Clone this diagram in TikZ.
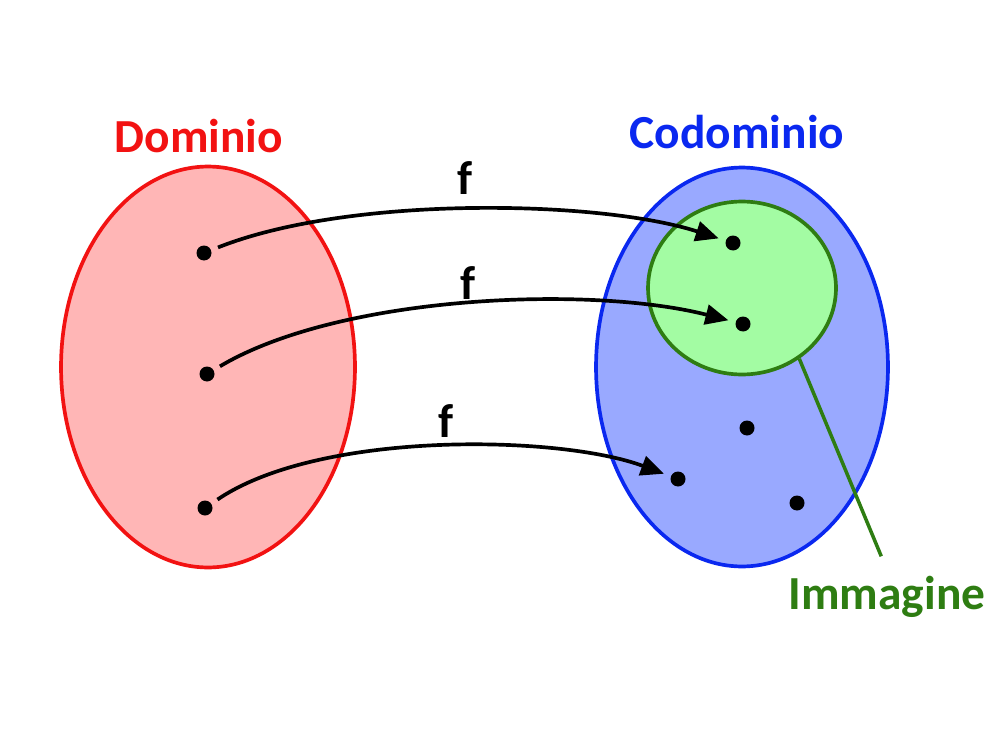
\documentclass[tikz,border=0pt]{standalone}
\usepackage{fontspec}
\setmainfont{Carlito}
\usetikzlibrary{arrows.meta,positioning,shapes.geometric}
\definecolor{domred}{HTML}{F21212}
\definecolor{domfill}{HTML}{FFB6B6}
\definecolor{codblue}{HTML}{0A28F0}
\definecolor{codfill}{HTML}{99A9FF}
\definecolor{imgreen}{HTML}{2E7D12}
\definecolor{imgfill}{HTML}{A3FCA3}

\begin{document}
\begin{tikzpicture}[
    x=0.02cm, y=-0.02cm,
    >={Triangle[length=4.6mm, width=4mm]},
    set/.style={ellipse, line width=2.1pt, inner sep=0pt},
    pt/.style={circle, fill=black, minimum size=3mm, inner sep=0pt, outer sep=4.3pt},
    fmap/.style={->, line width=2.1pt, black},
    flabel/.style={font=\fontsize{27}{32}\selectfont\bfseries},
    title/.style={font=\fontsize{27}{32}\selectfont\bfseries},
]
    \useasboundingbox (0,0) rectangle (1000,750);

    % ============================================================
    %  SETS
    % ============================================================
    \node[set, draw=domred, fill=domfill,
          minimum width=5.88cm, minimum height=8.02cm] (dom) at (208,367) {};
    \node[set, draw=codblue, fill=codfill,
          minimum width=5.84cm, minimum height=7.98cm] (cod) at (742,367) {};
    \node[set, draw=imgreen, fill=imgfill,
          minimum width=3.76cm, minimum height=3.46cm] (img) at (742,288) {};

    % Set captions
    \node[title, text=domred]  (domlbl) at (199,136) {Dominio};
    \node[title, text=codblue] (codlbl) at (737,132) {Codominio};
    \node[title, text=imgreen] (imglbl) at (887,597) {Immagine};

    % ============================================================
    %  ELEMENTS
    % ============================================================
    % Domain
    \node[pt] (a1) at (204,253) {};
    \node[pt] (a2) at (207,374) {};
    \node[pt] (a3) at (205,508) {};
    % Codomain (first two lie in the image)
    \node[pt] (b1) at (733,243) {};
    \node[pt] (b2) at (743,324) {};
    \node[pt] (b3) at (747,428) {};
    \node[pt] (b4) at (678,479) {};
    \node[pt] (b5) at (797,503) {};

    % ============================================================
    %  MAPPINGS
    % ============================================================
    \draw[fmap] (a1) .. controls (350,195) and (600,200) .. (b1);
    \draw[fmap] (a2) .. controls (340,295) and (590,285) .. (b2);
    \draw[fmap] (a3) .. controls (320,430) and (560,435) .. (b4);

    \node[flabel] (f1) at (465,178) {f};
    \node[flabel] (f2) at (468,283) {f};
    \node[flabel] (f3) at (446,421) {f};

    % Pointer to the image
    \draw[imgreen, line width=2pt, shorten >=3mm] (img.-51) -- (imglbl.north);

\end{tikzpicture}
\end{document}
